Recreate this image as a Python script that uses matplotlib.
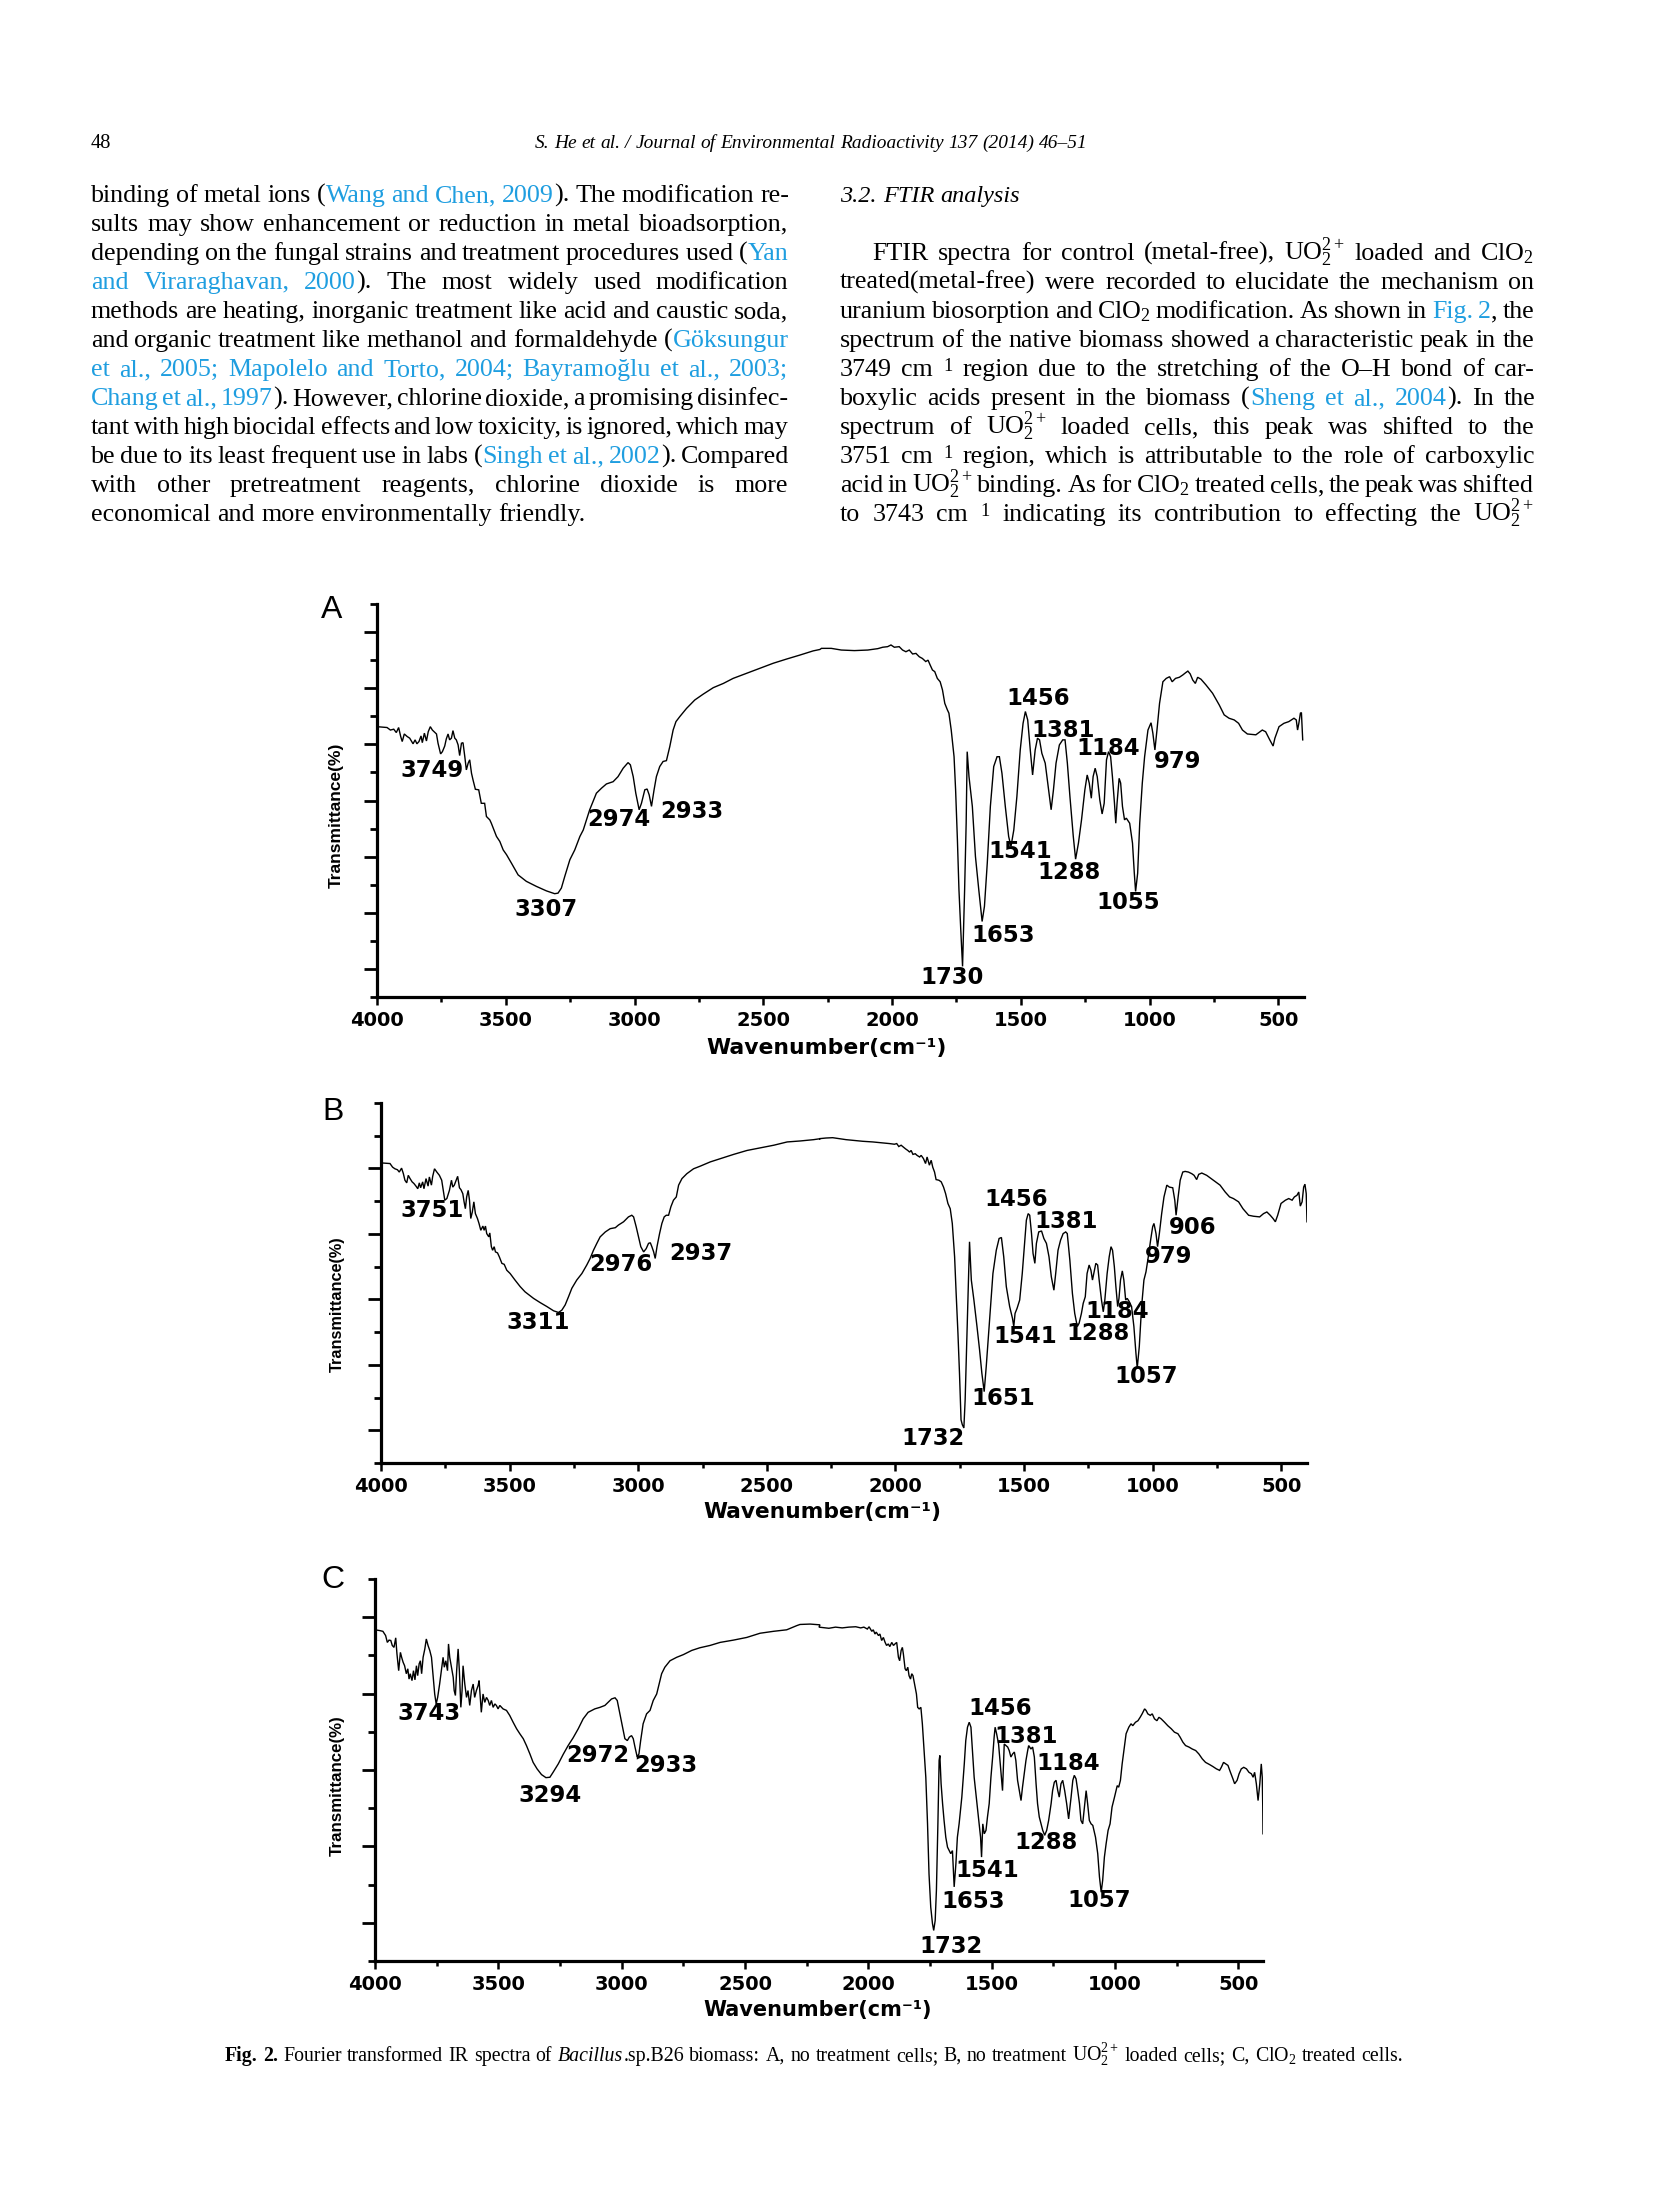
import matplotlib
matplotlib.use('Agg')
import matplotlib.pyplot as plt
from matplotlib.font_manager import FontProperties, fontManager
from matplotlib.ticker import FixedLocator
import numpy as np

# ---------------- data -----------------
XTICKS = [4000, 3500, 3000, 2500, 2000, 1500, 1000, 500]
XTICK_LABELS = ['4000', '3500', '3000', '2500', '2000', '1500', '1000', '500']
XMINOR = [3750, 3250, 2750, 2250, 1750, 1250, 750]

A_wn = [4000,3961,3948,3935,3925,3916,3908,3902,3894,3883,3873,3865,3860,3852,3845,3837,3829,3824,3816,3808,3801,3793,3785,3769,3763,3753,3746,3737,3731,3724,3718,3711,3705,3698,3692,3685,3679,3672,3666,3659,3653,3646,3640,3633,3627,3618,3605,3595,3582,3575,3562,3556,3536,3523,3510,3497,3478,3452,3420,3381,3342,3310,3297,3284,3271,3251,3232,3212,3199,3174,3148,3128,3109,3083,3064,3044,3025,3016,3005,2995,2982,2973,2960,2951,2943,2934,2924,2915,2902,2889,2876,2863,2850,2839,2824,2798,2766,2733,2694,2655,2617,2565,2513,2461,2409,2358,2306,2280,
        2274,2236,2197,2146,2094,2055,2036,2017,2004,1991,1972,1959,1946,1933,1920,1907,1894,1882,1869,1860,1852,1843,1834,1824,1813,1804,1795,1785,1779,1770,1759,1753,1746,1740,1733,1726,1718,1712,1708,1701,1688,1676,1663,1650,1641,1630,1618,1605,1592,1583,1573,1560,1547,1538,1527,1515,1502,1491,1482,1473,1463,1454,1444,1435,1427,1418,1405,1392,1382,1373,1363,1350,1337,1328,1319,1309,1296,1287,1276,1264,1251,1242,1234,1226,1219,1211,1203,1193,1184,1176,1167,1159,1151,1144,1136,1131,1126,1118,1112,1105,1097,1090,1077,1066,1059,1054,1046,1038,1028,1019,1006,994,987,979,971,961,948,935,922,912,899,884,871,860,851,842,832,822,813,800,781,755,729,710,691,671,654,639,620,587,562,549,533,520,513,497,478,459,439,430,425,420,414,410,405]
A_T = [9.63,9.60,9.51,9.54,9.42,9.60,9.28,9.10,9.37,9.28,9.22,9.10,9.02,9.16,9.02,9.10,9.30,9.06,9.40,9.12,9.45,9.63,9.51,9.37,9.04,8.66,8.74,8.94,9.19,9.37,9.16,9.22,9.49,9.22,9.16,8.98,8.60,9.04,9.06,8.56,8.09,8.33,8.45,7.97,7.73,7.40,7.38,6.90,6.90,6.43,6.31,6.19,5.72,5.54,5.24,5.07,4.77,4.35,4.12,3.94,3.78,3.68,3.70,3.88,4.29,4.89,5.24,5.72,5.95,6.67,7.26,7.44,7.59,7.67,7.85,8.15,8.35,8.27,7.85,7.26,6.67,6.90,7.38,7.41,7.20,6.79,7.38,7.85,8.21,8.39,8.42,8.92,9.51,9.81,9.99,10.28,10.58,10.79,11.02,11.17,11.35,11.53,11.71,11.89,12.04,12.18,12.33,12.38,
       12.42,12.42,12.36,12.34,12.36,12.41,12.46,12.48,12.54,12.46,12.48,12.36,12.30,12.36,12.22,12.24,12.12,12.06,11.95,12.00,11.83,11.65,11.59,11.35,11.23,10.94,10.46,10.23,10.11,9.51,8.56,7.38,5.60,3.82,2.40,1.09,3.82,6.19,8.74,7.85,6.79,5.01,3.82,2.69,3.23,4.77,6.79,8.21,8.56,8.56,7.97,6.79,5.72,5.36,5.95,7.14,8.80,9.75,10.17,9.87,8.80,7.91,8.80,9.22,9.16,8.68,8.33,7.38,6.67,7.38,8.33,8.98,9.16,9.16,8.33,7.14,5.72,4.91,5.48,6.31,7.38,7.91,7.62,7.08,7.85,8.15,7.85,7.02,6.52,6.90,8.45,8.74,8.56,7.85,6.90,6.19,6.90,7.79,7.62,6.79,6.31,6.37,6.19,5.48,4.41,3.76,4.41,6.19,7.62,8.56,9.51,9.77,9.40,8.80,9.51,10.46,11.23,11.35,11.41,11.23,11.35,11.39,11.47,11.55,11.61,11.51,11.29,11.17,11.39,11.32,11.12,10.82,10.40,10.05,9.93,9.87,9.75,9.51,9.37,9.34,9.51,9.45,9.16,8.94,9.22,9.63,9.75,9.81,9.93,9.87,9.51,9.75,10.11,10.13,9.16]

B_wn = [4000,3965,3955,3946,3936,3929,3920,3913,3907,3900,3894,3887,3879,3872,3864,3857,3851,3846,3838,3833,3825,3817,3812,3804,3799,3792,3783,3773,3764,3757,3752,3744,3734,3726,3721,3715,3708,3702,3695,3689,3682,3677,3672,3667,3661,3656,3651,3645,3639,3633,3625,3619,3612,3604,3599,3594,3589,3581,3577,3571,3566,3560,3555,3547,3540,3530,3521,3511,3498,3479,3459,3440,3407,3381,3355,3329,3310,3297,3284,3271,3258,3239,3219,3200,3187,3174,3161,3148,3128,3109,3089,3077,3057,3038,3025,3018,3008,2999,2990,2979,2969,2960,2953,2947,2940,2934,2927,2917,2908,2899,2891,2882,2873,2863,2852,2843,2830,2811,2785,2759,2720,2681,2629,2577,2525,2473,2421,2370,2318,2292,
        2296,2270,2244,2218,2192,2166,2127,2088,2049,2023,2004,1995,1987,1978,1969,1961,1952,1945,1939,1932,1923,1916,1906,1900,1891,1883,1877,1868,1861,1855,1848,1842,1831,1822,1813,1805,1796,1787,1779,1770,1764,1757,1751,1745,1740,1734,1729,1722,1716,1712,1705,1695,1683,1673,1664,1655,1647,1634,1621,1608,1597,1588,1579,1569,1556,1545,1540,1535,1527,1517,1507,1497,1491,1484,1478,1471,1465,1458,1452,1443,1432,1423,1413,1403,1394,1384,1377,1368,1358,1348,1338,1332,1322,1312,1303,1293,1286,1277,1270,1262,1255,1247,1240,1234,1229,1221,1214,1208,1199,1192,1186,1177,1169,1162,1156,1149,1143,1136,1131,1125,1118,1112,1105,1099,1091,1082,1073,1065,1060,1052,1043,1034,1026,1017,1008,1000,995,987,981,974,965,956,945,935,922,914,909,901,893,883,874,861,848,839,829,821,809,790,764,738,718,701,686,666,649,627,608,584,569,556,543,532,523,514,501,484,471,458,449,439,432,426,419,413,408,403,400]
B_T = [9.17,9.15,9.04,8.99,8.96,8.89,9.01,8.84,8.64,8.56,8.79,8.69,8.59,8.54,8.46,8.38,8.56,8.41,8.59,8.38,8.69,8.46,8.74,8.49,8.76,8.99,8.89,8.79,8.64,8.28,8.03,8.08,8.33,8.64,8.43,8.49,8.64,8.76,8.41,8.35,8.23,7.98,7.77,8.13,8.33,8.03,7.47,7.67,7.98,7.62,7.47,7.32,7.11,7.24,7.11,7.24,7.01,6.91,7.03,6.61,6.50,6.61,6.45,6.42,6.30,6.10,6.07,5.89,5.79,5.59,5.39,5.23,5.03,4.90,4.78,4.65,4.60,4.67,4.83,5.08,5.34,5.59,5.79,6.05,6.25,6.50,6.71,6.91,7.06,7.16,7.19,7.27,7.37,7.52,7.57,7.52,7.22,6.91,6.61,6.45,6.55,6.71,6.73,6.61,6.45,6.25,6.61,7.01,7.32,7.52,7.57,7.57,7.83,8.03,8.13,8.49,8.69,8.84,8.99,9.07,9.20,9.30,9.43,9.55,9.63,9.71,9.81,9.84,9.88,9.91,
       9.91,9.93,9.94,9.91,9.88,9.86,9.83,9.81,9.78,9.76,9.74,9.76,9.67,9.71,9.65,9.60,9.55,9.50,9.55,9.43,9.45,9.40,9.35,9.40,9.30,9.15,9.35,9.10,9.25,9.04,8.89,8.66,8.64,8.59,8.43,8.23,7.93,7.77,7.32,6.30,5.18,3.96,2.74,1.32,1.17,1.07,1.93,3.96,5.79,6.76,5.59,4.98,4.17,3.46,2.74,2.18,2.95,4.37,5.79,6.50,6.86,6.89,6.30,5.39,4.78,4.42,4.17,4.57,4.73,4.98,5.79,6.81,7.42,7.62,7.57,7.01,6.40,6.10,6.71,7.06,7.09,6.86,6.71,6.30,5.69,5.28,5.79,6.50,6.81,7.01,7.06,7.01,6.20,5.18,4.57,4.17,4.27,4.57,4.88,5.08,5.79,6.05,5.89,5.59,5.79,6.10,6.05,5.59,4.98,4.62,4.98,5.79,6.30,6.61,6.50,6.00,5.39,4.78,5.03,5.59,5.87,5.59,4.98,5.03,4.93,4.78,4.17,3.35,2.90,3.56,4.78,5.59,5.84,6.30,6.81,7.22,7.32,7.01,6.61,7.01,7.62,8.13,8.49,8.43,8.41,8.03,7.57,8.13,8.64,8.89,8.91,8.89,8.84,8.79,8.66,8.82,8.86,8.79,8.64,8.49,8.28,8.13,8.08,7.98,7.77,7.57,7.54,7.52,7.62,7.67,7.57,7.47,7.37,7.57,7.93,8.03,8.08,8.03,8.13,8.18,8.28,7.85,7.98,8.43,8.52,8.23,7.37]

C_wn = [4000,3981,3968,3957,3950,3943,3936,3930,3923,3916,3911,3904,3897,3892,3886,3880,3873,3867,3862,3857,3850,3844,3838,3832,3827,3821,3816,3811,3805,3798,3792,3785,3778,3771,3765,3758,3752,3746,3738,3731,3724,3719,3713,3706,3702,3697,3690,3683,3679,3674,3669,3663,3658,3652,3647,3643,3636,3629,3623,3616,3609,3602,3596,3589,3582,3578,3573,3569,3562,3555,3548,3541,3535,3528,3521,3514,3508,3501,3494,3481,3467,3454,3440,3426,3413,3399,3386,3372,3359,3343,3325,3307,3291,3278,3257,3237,3217,3197,3176,3156,3136,3109,3088,3068,3055,3041,3027,3018,3007,2996,2987,2977,2969,2960,2953,2946,2937,2930,2923,2913,2899,2885,2872,2858,2848,2838,2825,2804,2777,2750,2716,2683,2642,2601,2547,2493,2439,2385,2331,2290,2277,2236,2196,
        2200,2160,2133,2106,2079,2051,2031,2018,2004,1997,1986,1980,1973,1968,1959,1953,1946,1939,1932,1926,1919,1913,1905,1898,1892,1885,1878,1873,1867,1862,1858,1851,1846,1840,1835,1829,1824,1819,1810,1805,1800,1794,1787,1781,1774,1767,1760,1754,1747,1740,1735,1729,1724,1718,1713,1710,1705,1699,1693,1686,1679,1672,1666,1659,1652,1645,1639,1632,1621,1611,1605,1598,1591,1584,1578,1571,1564,1557,1551,1545,1541,1536,1530,1523,1517,1510,1503,1496,1490,1486,1480,1472,1463,1456,1449,1442,1435,1429,1422,1415,1408,1402,1395,1388,1381,1375,1368,1361,1354,1350,1341,1334,1327,1320,1314,1307,1300,1293,1285,1277,1269,1259,1253,1246,1239,1232,1226,1219,1212,1204,1196,1188,1178,1171,1165,1158,1151,1144,1138,1131,1124,1117,1111,1104,1097,1090,1079,1070,1063,1056,1050,1043,1036,1028,1020,1012,1002,991,985,978,971,962,955,944,935,928,917,907,898,890,880,874,867,857,849,840,830,822,813,799,786,772,759,745,736,725,714,700,687,673,660,646,633,616,603,589,576,569,560,551,542,532,522,515,505,497,488,478,467,457,447,440,434,427,420,413,407,403,401,400]
C_T = [8.67,8.65,8.63,8.52,8.34,8.40,8.39,8.26,8.21,8.46,8.04,7.60,8.08,7.95,7.82,7.73,7.52,7.65,7.38,7.52,7.34,7.60,7.36,7.73,7.47,7.78,7.86,7.52,7.95,8.17,8.43,8.26,8.13,7.95,7.52,6.99,6.73,6.90,7.25,7.60,7.95,7.69,7.86,7.60,8.30,7.95,7.69,7.43,7.08,6.95,7.60,8.17,7.60,6.64,7.08,7.73,7.25,6.90,7.08,6.69,7.08,7.25,6.90,7.08,7.21,7.34,6.90,6.51,6.99,6.77,6.90,6.82,6.69,6.82,6.64,6.73,6.69,6.60,6.69,6.60,6.56,6.43,6.25,6.08,5.95,5.82,5.64,5.42,5.20,5.03,4.88,4.80,4.81,4.94,5.16,5.41,5.64,5.84,6.08,6.34,6.51,6.60,6.64,6.69,6.77,6.86,6.89,6.82,6.47,6.12,5.82,5.77,5.86,5.90,5.82,5.60,5.34,5.42,5.77,6.21,6.47,6.56,6.82,6.99,7.25,7.52,7.69,7.86,7.95,8.02,8.13,8.20,8.26,8.34,8.40,8.47,8.58,8.63,8.67,8.78,8.81,8.82,8.80,
       8.74,8.71,8.74,8.72,8.74,8.75,8.72,8.74,8.69,8.75,8.63,8.67,8.56,8.61,8.52,8.56,8.39,8.47,8.34,8.26,8.30,8.23,8.34,8.26,8.30,8.34,7.95,7.86,8.13,8.21,8.04,7.65,7.60,7.69,7.47,7.38,7.52,7.47,7.17,6.99,6.64,6.60,6.64,6.21,5.51,4.81,3.59,2.28,1.41,0.98,0.80,1.06,1.85,3.59,5.25,5.38,4.64,4.12,3.68,3.24,2.98,2.89,2.81,2.89,1.94,2.55,3.24,3.59,4.29,5.16,5.77,6.12,6.25,6.12,5.51,4.81,4.38,3.94,3.59,3.24,2.72,3.59,3.33,3.42,3.77,4.12,4.81,5.34,5.86,6.12,5.95,5.68,4.99,4.46,5.68,5.64,5.60,5.51,5.34,5.42,5.47,5.25,4.73,4.46,4.20,4.55,4.90,5.25,5.51,5.64,5.55,5.60,5.34,4.64,4.12,3.77,3.59,3.42,3.29,3.42,3.68,4.12,4.46,4.68,4.73,4.46,4.29,4.64,4.73,4.46,4.12,3.72,4.29,4.73,4.86,4.77,4.46,4.12,3.68,3.59,4.03,4.46,4.12,3.68,3.59,3.55,3.24,2.81,2.20,1.80,2.11,2.72,3.07,3.42,3.59,4.03,4.29,4.59,4.55,4.73,5.16,5.60,5.95,6.12,6.21,6.16,6.25,6.29,6.38,6.47,6.60,6.56,6.47,6.43,6.47,6.34,6.29,6.38,6.34,6.25,6.16,6.08,5.99,5.95,5.86,5.73,5.64,5.60,5.55,5.51,5.42,5.29,5.20,5.14,5.09,5.03,4.99,5.07,5.20,5.16,5.12,4.94,4.77,4.64,4.73,4.90,5.03,5.07,5.03,4.94,4.90,4.81,4.94,4.64,4.20,4.64,5.16,4.81,4.03,3.33]

A_PEAKS = ['3749', '3307', '2974', '2933', '1730', '1653', '1541', '1288', '1456', '1381', '1184', '1055', '979']
B_PEAKS = ['3751', '3311', '2976', '2937', '1732', '1651', '1541', '1288', '1184', '1456', '1381', '1057', '979', '906']
C_PEAKS = ['3743', '3294', '2972', '2933', '1732', '1653', '1541', '1288', '1456', '1381', '1184', '1057']

# label anchor positions (layout)
A_LABEL_POS = [(3785, 8.07), (3342, 3.13), (3060, 6.31), (2779, 6.61), (1768, 0.70), (1569, 2.19), (1502, 5.17),
               (1311, 4.45), (1431, 10.64), (1337, 9.48), (1160, 8.86), (1083, 3.35), (890, 8.39)]
B_LABEL_POS = [(3803, 7.72), (3388, 4.29), (3067, 6.08), (2756, 6.40), (1855, 0.74), (1579, 1.96), (1497, 3.88),
               (1212, 3.97), (1136, 4.64), (1530, 8.05), (1335, 7.37), (1027, 2.64), (939, 6.32), (845, 7.20)]
C_LABEL_POS = [(3781, 6.47), (3291, 4.33), (3095, 5.38), (2822, 5.12), (1663, 0.38), (1575, 1.56), (1517, 2.37),
               (1280, 3.09), (1467, 6.60), (1361, 5.88), (1188, 5.16), (1063, 1.59)]

HEADER_PAGE = '48'
HEADER_TEXT = '‹S. He et al. / Journal of Environmental Radioactivity 137 (2014) 46–51›'
SECTION = '‹3.2. FTIR analysis›'
LEFT_LINES = [
    'binding of metal ions («Wang and Chen, 2009»). The modification re-',
    'sults may show enhancement or reduction in metal bioadsorption,',
    'depending on the fungal strains and treatment procedures used («Yan»',
    '«and Viraraghavan, 2000»). The most widely used modification',
    'methods are heating, inorganic treatment like acid and caustic soda,',
    'and organic treatment like methanol and formaldehyde («Göksungur»',
    '«et al., 2005; Mapolelo and Torto, 2004; Bayramoğlu et al., 2003;»',
    '«Chang et al., 1997»). However, chlorine dioxide, a promising disinfec-',
    'tant with high biocidal effects and low toxicity, is ignored, which may',
    'be due to its least frequent use in labs («Singh et al., 2002»). Compared',
    'with other pretreatment reagents, chlorine dioxide is more',
    'economical and more environmentally friendly.',
]
RIGHT_LINES = [
    'FTIR spectra for control (metal-free), UO$_2^{2+}$ loaded and ClO$_2$',
    'treated(metal-free) were recorded to elucidate the mechanism on',
    'uranium biosorption and ClO$_2$ modification. As shown in «Fig. 2», the',
    'spectrum of the native biomass showed a characteristic peak in the',
    '3749 cm $^{1}$ region due to the stretching of the O–H bond of car-',
    'boxylic acids present in the biomass («Sheng et al., 2004»). In the',
    'spectrum of UO$_2^{2+}$ loaded cells, this peak was shifted to the',
    '3751 cm $^{1}$ region, which is attributable to the role of carboxylic',
    'acid in UO$_2^{2+}$ binding. As for ClO$_2$ treated cells, the peak was shifted',
    'to 3743 cm $^{1}$ indicating its contribution to effecting the UO$_2^{2+}$',
]
CAPTION = ('⟦Fig. 2.⟧ Fourier transformed IR spectra of ‹Bacillus›.sp.B26 biomass: A, no treatment cells; '
           'B, no treatment UO$_2^{2+}$ loaded cells; C, ClO$_2$ treated cells.')

# ---------------- setup -----------------
W, H, DPI = 1654, 2205, 200
plt.rcParams['mathtext.fontset'] = 'custom'
plt.rcParams['mathtext.rm'] = 'Liberation Serif'
plt.rcParams['mathtext.it'] = 'Liberation Serif:italic'
plt.rcParams['mathtext.bf'] = 'Liberation Serif:bold'

avail = {f.name for f in fontManager.ttflist}
YLAB_FONT = 'Liberation Sans Narrow' if 'Liberation Sans Narrow' in avail else 'Liberation Sans'
SERIF = 'Liberation Serif'
CHART_FONT = 'DejaVu Sans'
BLUE = '#1f9ee0'

fig = plt.figure(figsize=(W / DPI, H / DPI), dpi=DPI)
fig.patch.set_facecolor('white')
renderer = fig.canvas.get_renderer()


def fx(x):
    return x / W


def fy(y):
    return 1 - y / H


def fprop(size, style='normal', weight='normal', family=SERIF):
    return FontProperties(family=family, size=size, style=style, weight=weight, math_fontfamily='custom')


def measure(s, size, style='normal', weight='normal', family=SERIF):
    w, h, d = renderer.get_text_width_height_descent(s, fprop(size, style, weight, family), ismath=('$' in s))
    return w


def parse(line):
    words = []
    color, style, weight = 'black', 'normal', 'normal'
    for tok in line.split(' '):
        if not tok:
            continue
        segs, cur = [], ''
        for ch in tok:
            if ch in '«»‹›⟦⟧':
                if cur:
                    segs.append((cur, color, style, weight))
                    cur = ''
                if ch == '«': color = BLUE
                elif ch == '»': color = 'black'
                elif ch == '‹': style = 'italic'
                elif ch == '›': style = 'normal'
                elif ch == '⟦': weight = 'bold'
                elif ch == '⟧': weight = 'normal'
            else:
                cur += ch
        if cur:
            segs.append((cur, color, style, weight))
        if segs:
            words.append(segs)
    return words


def seg_widths(words, size):
    return [[measure(t, size, st, wt) for (t, c, st, wt) in w] for w in words]


def space_width(size):
    return measure('n n', size) - measure('nn', size)


def set_line(line, x0, width, base, size, justify=True, fit=False):
    words = parse(line)
    n = len(words)
    ws = seg_widths(words, size)
    tot = sum(sum(w) for w in ws)
    if fit:
        natural = tot + (n - 1) * space_width(size)
        size = size * width / natural
        ws = seg_widths(words, size)
        tot = sum(sum(w) for w in ws)
    if (justify or fit) and n > 1:
        gap = (width - tot) / (n - 1)
    else:
        gap = space_width(size)
    x = x0
    for w, wl in zip(words, ws):
        xx = x
        for (t, c, st, wt), sw in zip(w, wl):
            fig.text(fx(xx), fy(base), t, fontsize=size, family=SERIF, style=st, weight=wt, color=c,
                     ha='left', va='baseline', math_fontfamily='custom')
            xx += sw + 0.6
        x += sum(wl) + 0.6 * (len(wl) - 1) + gap
    return size


# ---------------- page text -----------------
LEFT_X, LEFT_W = 91, 697
RIGHT_X, RIGHT_W = 840, 694
INDENT = 32
BASE0, LEAD = 202, 29.0

just_lines = [(l, LEFT_W) for l in LEFT_LINES[:-1]] + \
             [(RIGHT_LINES[0], RIGHT_W - INDENT)] + [(l, RIGHT_W) for l in RIGHT_LINES[1:]]
cands = []
for l, wdt in just_lines:
    wds = parse(l)
    tot = sum(sum(w) for w in seg_widths(wds, 10))
    cands.append(10 * (wdt - (len(wds) - 1) * 3.5) / tot)
body_size = min(9.6, min(cands))

hsize = set_line(HEADER_TEXT, 535, 553, 148, 8, fit=True)
fig.text(fx(91), fy(148), HEADER_PAGE, fontsize=hsize * 1.05, family=SERIF, ha='left', va='baseline')
set_line(SECTION, 840, 180, BASE0, 9, fit=True)

for i, l in enumerate(LEFT_LINES):
    last = (i == len(LEFT_LINES) - 1)
    set_line(l, LEFT_X, LEFT_W, BASE0 + i * LEAD, body_size, justify=not last)

for i, l in enumerate(RIGHT_LINES):
    x0 = RIGHT_X + (INDENT if i == 0 else 0)
    wdt = RIGHT_W - (INDENT if i == 0 else 0)
    set_line(l, x0, wdt, BASE0 + (i + 2) * LEAD, body_size, justify=True)

set_line(CAPTION, 225, 1177, 2061, 7, fit=True)


# ---------------- spectra panels -----------------
def draw_panel(rect, wn, tr, ymax, peaks, pos, letter, letter_xy, ylab_len, ylab_xy, xlab_xy, xlab_w):
    ax = fig.add_axes(rect)
    ax.plot(wn, tr, color='black', lw=0.5, solid_joinstyle='miter')
    ax.set_xlim(4000, 400)
    ax.set_ylim(0, ymax)
    for s in ['top', 'right']:
        ax.spines[s].set_visible(False)
    for s in ['left', 'bottom']:
        ax.spines[s].set_linewidth(1.15)
    ax.set_xticks(XTICKS, labels=XTICK_LABELS, fontsize=7.0, fontweight='bold', fontfamily=CHART_FONT)
    ax.xaxis.set_minor_locator(FixedLocator(XMINOR))
    ymaj = list(range(1, ymax, 2))
    ymin = [v for v in range(0, ymax + 1) if v not in ymaj]
    ax.yaxis.set_major_locator(FixedLocator(ymaj))
    ax.yaxis.set_minor_locator(FixedLocator(ymin))
    ax.tick_params(axis='x', which='major', direction='out', length=3.0, width=0.9, pad=2.0)
    ax.tick_params(axis='x', which='minor', direction='out', length=1.9, width=0.9)
    ax.tick_params(axis='y', which='major', direction='out', length=4.8, width=1.0, labelleft=False)
    ax.tick_params(axis='y', which='minor', direction='out', length=2.6, width=1.0)
    for s, (xx, yy) in zip(peaks, pos):
        ax.text(xx, yy, s, ha='center', va='center', fontsize=8.2, fontweight='bold', family=CHART_FONT)
    # x label
    xl = 'Wavenumber(cm⁻¹)'
    wx = measure(xl, 10, weight='bold', family=CHART_FONT)
    ax.set_xlabel(xl, fontsize=10 * xlab_w / wx * 0.86, fontweight='bold', family=CHART_FONT)
    ax.xaxis.set_label_coords(*xlab_xy)
    ax.xaxis.label.set_va('center')
    # y label
    yl = 'Transmittance(%)'
    wy = renderer.get_text_width_height_descent(yl, FontProperties(family=YLAB_FONT, weight='bold', size=10), False)[0]
    ax.set_ylabel(yl, fontsize=10 * ylab_len / wy, fontweight='bold', family=YLAB_FONT)
    ax.yaxis.set_label_coords(*ylab_xy)
    ax.yaxis.label.set_va('center')
    ax.yaxis.label.set_ha('center')
    fig.text(fx(letter_xy[0]), fy(letter_xy[1]), letter, fontsize=11.5, family='Liberation Sans',
             ha='center', va='center')
    return ax


draw_panel([377 / W, 1 - 997 / H, 927 / W, 393 / H], A_wn, A_T, 14, A_PEAKS, A_LABEL_POS,
           'A', (332, 610), 145, (-0.044, 0.463), (0.485, -0.13), 279)
draw_panel([381 / W, 1 - 1463 / H, 926 / W, 360 / H], B_wn, B_T, 11, B_PEAKS, B_LABEL_POS,
           'B', (333, 1112), 135, (-0.0475, 0.442), (0.477, -0.136), 277)
draw_panel([375 / W, 1 - 1961 / H, 888 / W, 382 / H], C_wn, C_T, 10, C_PEAKS, C_LABEL_POS,
           'C', (333, 1580), 141, (-0.042, 0.458), (0.498, -0.128), 265)

fig.savefig('out.png', dpi=DPI, facecolor='white')
